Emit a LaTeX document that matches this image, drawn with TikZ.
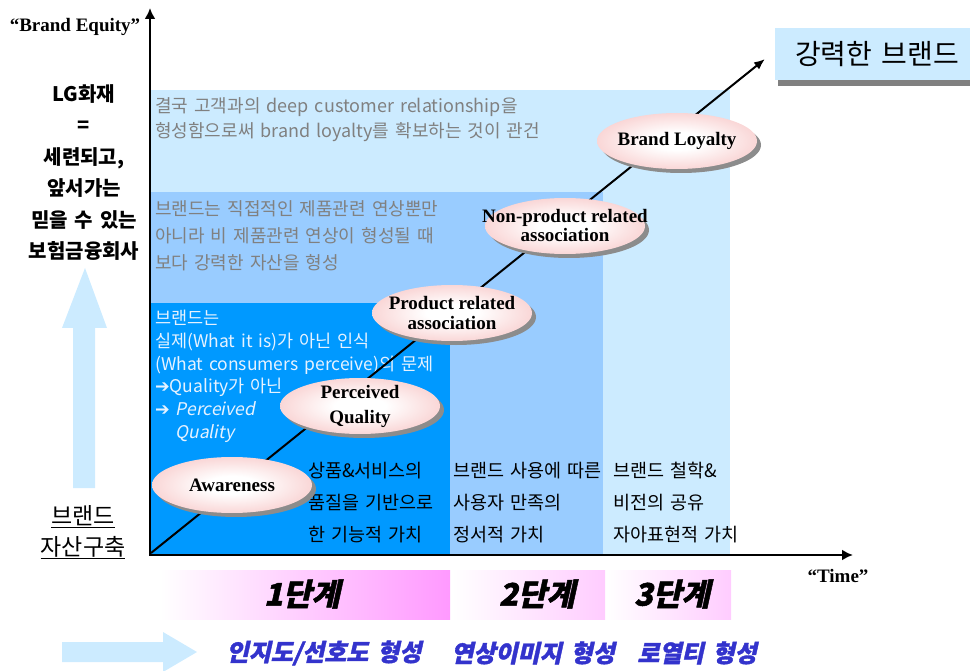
\documentclass[tikz,border=0pt]{standalone}
\usepackage{fontspec}
\setmainfont{Noto Sans CJK KR}[WordSpace=1.5]
\newfontfamily\timesfont{Liberation Serif}
\newfontfamily\slantfont{Noto Sans CJK KR}[FakeSlant=0.2, WordSpace=1.5]
\newfontfamily\heavyslant{Noto Sans CJK KR}[FakeSlant=0.22, WordSpace=1.6, BoldFeatures={FakeBold=1.5}]
\newfontfamily\arrowfont{DejaVu Sans}
\usetikzlibrary{shapes.geometric,shadows,arrows.meta}

\definecolor{paleblue}{HTML}{CCEBFF}
\definecolor{midblue}{HTML}{99CCFF}
\definecolor{deepblue}{HTML}{0099FF}
\definecolor{notegray}{HTML}{808080}
\definecolor{notewhite}{HTML}{E6F2FF}
\definecolor{ovalpink}{HTML}{F2A0A0}
\definecolor{shadowgray}{HTML}{8C8C8C}
\definecolor{stagepink}{HTML}{FF99FF}
\definecolor{stagepale}{HTML}{FFCCFF}
\definecolor{goalblue}{HTML}{3333CC}

\pgfdeclareradialshading{ovalshade}{\pgfpoint{0bp}{0bp}}{color(0bp)=(white); color(8bp)=(white); color(48bp)=(ovalpink); color(50bp)=(ovalpink)}

\tikzset{
  oval/.style={ellipse, minimum width=160pt, minimum height=56pt,
    inner xsep=-40pt, inner ysep=-12pt, align=center, shading=ovalshade,
    drop shadow={shadow xshift=4pt, shadow yshift=-4pt, fill=shadowgray, opacity=1},
    font=\timesfont\bfseries\fontsize{19}{19}\selectfont},
  note/.style={anchor=north west, inner sep=0pt, align=left},
  stage/.style={font=\heavyslant\bfseries\fontsize{31}{31}\selectfont},
  goal/.style={text=goalblue, font=\heavyslant\bfseries\fontsize{24}{24}\selectfont},
  axislabel/.style={font=\timesfont\bfseries\fontsize{19}{19}\selectfont}
}

\begin{document}
\begin{tikzpicture}[x=1pt,y=-1pt]
\useasboundingbox (0,0) rectangle (970,671);

% three levels of brand equity
\fill[paleblue] (150,90) rectangle (730,555);
\fill[midblue] (150,192) rectangle (603,555);
\fill[deepblue] (150,303) rectangle (450,555);

\node[note, text=notegray, font=\fontsize{18}{25}\selectfont] (band3) at (155,97)
  {결국 고객과의 deep customer relationship을\\형성함으로써 brand loyalty를 확보하는 것이 관건};
\node[note, text=notegray, font=\fontsize{18}{27}\selectfont] (band2) at (155,200)
  {브랜드는 직접적인 제품관련 연상뿐만\\아니라 비 제품관련 연상이 형성될 때\\보다 강력한 자산을 형성};
\node[note, text=notewhite, font=\fontsize{17.5}{22.7}\selectfont] (band1) at (155,310)
  {브랜드는\\실제(What it is)가 아닌 인식\\(What consumers perceive)의 문제\\{\arrowfont ➔}Quality가 아닌\\{\arrowfont ➔} {\slantfont Perceived}\\\hphantom{\arrowfont ➔ }{\slantfont Quality}};

\node[note, font=\fontsize{18.5}{32}\selectfont] (value1) at (308,462) {상품\&서비스의\\품질을 기반으로\\한 기능적 가치};
\node[note, font=\fontsize{18.5}{32}\selectfont] (value2) at (453,462) {브랜드 사용에 따른\\사용자 만족의\\정서적 가치};
\node[note, font=\fontsize{18.5}{32}\selectfont] (value3) at (613,462) {브랜드 철학\&\\비전의 공유\\자아표현적 가치};

% axes
\coordinate (ytop) at (150,8);
\coordinate (O) at (150,555);
\coordinate (xend) at (853,555);
\draw[line width=2.5pt, {Latex[length=11pt,width=11pt]}-{Latex[length=11pt,width=11pt]}] (ytop) -- (O) -- (xend);
\node[axislabel] (equity) at (75,27) {“Brand Equity”};
\node[axislabel] (time) at (838,576) {“Time”};

% growth line
\coordinate (start) at (151,553);
\coordinate (tip) at (765,59);
\draw[line width=2pt, -{Latex[length=11pt,width=9pt]}] (start) -- (tip);

\node[oval] (aware) at (232,485) {Awareness};
\node[oval, font=\timesfont\bfseries\fontsize{19}{25}\selectfont] (perceived) at (360,406) {Perceived\\Quality};
\node[oval, font=\timesfont\bfseries\fontsize{19}{20}\selectfont] (product) at (452,313) {Product related\\association};
\node[oval] (nonproduct) at (565,226) {Non-product related\\association};
\node[oval] (loyalty) at (677,141) {Brand Loyalty};

\node[fill=paleblue, minimum width=200pt, minimum height=52pt, inner sep=0pt,
  drop shadow={shadow xshift=3pt, shadow yshift=-6pt, fill=gray, opacity=1}] (strong) at (875,54) {};
\node[font=\fontsize{28}{28}\selectfont] (strongtext) at (877,54) {강력한 브랜드};

% left side
\node[anchor=north, align=center, inner sep=0pt, font=\bfseries\fontsize{20}{31.5}\selectfont] (motto) at (84,84)
  {LG화재\\=\\세련되고,\\앞서가는\\믿을 수 있는\\보험금융회사};
\fill[paleblue] (73,488) -- (73,328) -- (62,328) -- (85,268) -- (107,328) -- (95,328) -- (95,488) -- cycle;
\node[align=center, inner sep=0pt, font=\fontsize{23}{31}\selectfont] (build) at (83,532) {\underline{브랜드}\\\underline{자산구축}};

% stages
\shade[left color=white, right color=stagepink] (160,570) rectangle (450,619);
\shade[left color=white, right color=stagepale] (452,570) rectangle (605,619);
\shade[left color=white, right color=stagepale] (607,570) rectangle (731,619);
\node[stage] (stage1) at (302,594) {1단계};
\node[stage] (stage2) at (537,594) {2단계};
\node[stage] (stage3) at (672,594) {3단계};

\fill[paleblue] (62,642) -- (163,642) -- (163,632) -- (197,652) -- (163,672) -- (163,662) -- (62,662) -- cycle;
\node[goal] (goal1) at (324,653) {인지도/선호도 형성};
\node[goal] (goal2) at (533,653) {연상이미지 형성};
\node[goal] (goal3) at (697,653) {로열티 형성};
\end{tikzpicture}
\end{document}
